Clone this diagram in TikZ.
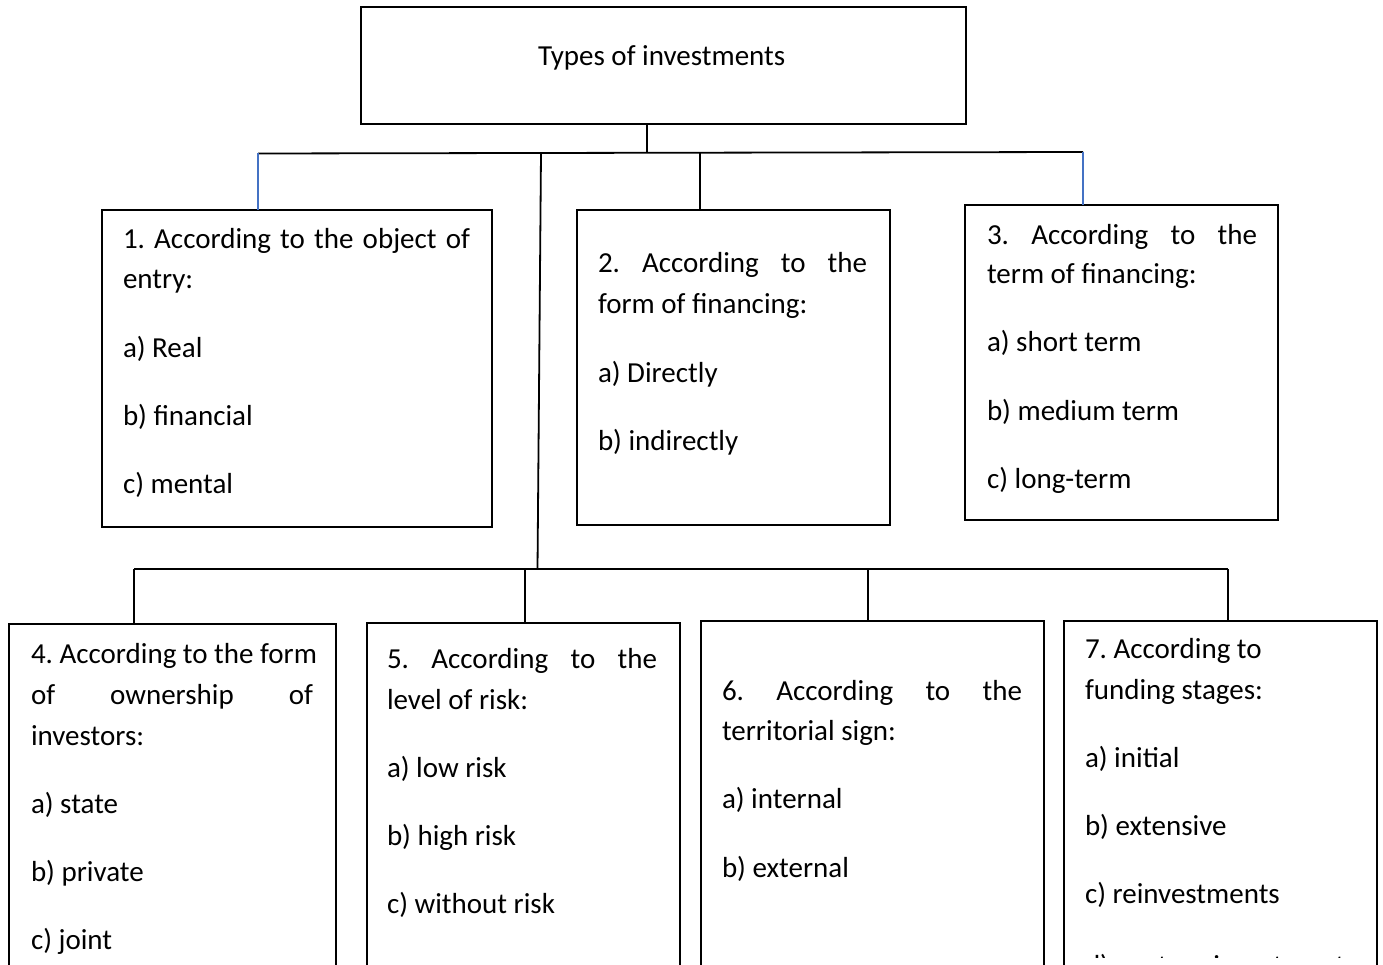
\documentclass[tikz,border=0pt]{standalone}
\usepackage{fontspec}
\setmainfont{Carlito}
\definecolor{bluecol}{RGB}{68,114,196}
\tikzset{
  box/.style={draw=black, line width=2.5pt, inner sep=0pt, outer sep=0pt, anchor=north west},
  conn/.style={draw=black, line width=1.8pt},
  bconn/.style={draw=bluecol, line width=1.5pt},
  txt/.style={inner sep=0pt, outer sep=0pt, anchor=base west, font=\fontsize{29}{41}\selectfont\frenchspacing},
}
\newcommand{\jline}[2]{\makebox[#1pt][s]{#2}}
\begin{document}
\begin{tikzpicture}[x=1pt,y=-1pt]
\clip (0,0) rectangle (1383,965);
\fill[white] (0,0) rectangle (1383,965);

% boxes
\node[box, minimum width=605pt, minimum height=117pt] (top) at (361,7) {};
\node[box, minimum width=390pt, minimum height=317pt] (b1) at (102,210) {};
\node[box, minimum width=313pt, minimum height=315pt] (b2) at (577,210) {};
\node[box, minimum width=313pt, minimum height=315pt] (b3) at (965,205) {};
\node[box, minimum width=327pt, minimum height=400pt] (b4) at (9,624) {};
\node[box, minimum width=313pt, minimum height=400pt] (b5) at (367,623) {};
\node[box, minimum width=343pt, minimum height=400pt] (b6) at (701,621) {};
\node[box, minimum width=313pt, minimum height=400pt] (b7) at (1064,621) {};

% connector points
\coordinate (h0) at (647,153);
\coordinate (busL) at (258,153.5);
\coordinate (busR) at (1083,152);
\coordinate (j2) at (700,153);
\coordinate (j3) at (541,153);
\coordinate (j3b) at (537.5,569);
\coordinate (lbL) at (134,569);
\coordinate (lbR) at (1228,569);
\coordinate (k5) at (525,569);
\coordinate (k6) at (868,569);

% upper connectors
\draw[conn] (top.south -| h0) -- (h0);
\draw[conn] (busL) -- (busR);
\draw[bconn] (busL) -- (busL |- b1.north);
\draw[bconn] (busR) -- (busR |- b3.north);
\draw[conn] (j2) -- (j2 |- b2.north);
\draw[conn] (j3) -- (j3b);

% lower connectors
\draw[conn] (lbL) -- (lbR);
\draw[conn] (lbL) -- (lbL |- b4.north);
\draw[conn] (k5) -- (k5 |- b5.north);
\draw[conn] (k6) -- (k6 |- b6.north);
\draw[conn] (lbR) -- (lbR |- b7.north);

% texts
\node[txt] (t0) at (538,66) {Types of investments};

\node[txt] (t1a) at (123,249) {\jline{347}{1. According to the object of}};
\node[txt] (t1b) at (123,289) {entry:};
\node[txt] (t1c) at (123,357) {a) Real};
\node[txt] (t1d) at (123,425) {b) financial};
\node[txt] (t1e) at (123,493) {c) mental};

\node[txt] (t2a) at (598,273) {\jline{269}{2. According to the}};
\node[txt] (t2b) at (598,313) {form of financing:};
\node[txt] (t2c) at (598,382) {a) Directly};
\node[txt] (t2d) at (598,450) {b) indirectly};

\node[txt] (t3a) at (987,245) {\jline{270}{3. According to the}};
\node[txt] (t3b) at (987,284) {term of financing:};
\node[txt] (t3c) at (987,352) {a) short term};
\node[txt] (t3d) at (987,420) {b) medium term};
\node[txt] (t3e) at (987,488) {c) long-term};

\node[txt] (t4a) at (31,663) {4. According to the form};
\node[txt] (t4b) at (31,704) {\jline{282}{of ownership of}};
\node[txt] (t4c) at (31,745) {investors:};
\node[txt] (t4d) at (31,813) {a) state};
\node[txt] (t4e) at (31,881) {b) private};
\node[txt] (t4f) at (31,949) {c) joint};

\node[txt] (t5a) at (387,668) {\jline{270}{5. According to the}};
\node[txt] (t5b) at (387,709) {level of risk:};
\node[txt] (t5c) at (387,777) {a) low risk};
\node[txt] (t5d) at (387,845) {b) high risk};
\node[txt] (t5e) at (387,913) {c) without risk};

\node[txt] (t6a) at (722,700) {\jline{300}{6. According to the}};
\node[txt] (t6b) at (722,740) {territorial sign:};
\node[txt] (t6c) at (722,808) {a) internal};
\node[txt] (t6d) at (722,877) {b) external};

\node[txt] (t7a) at (1085,658) {7. According to};
\node[txt] (t7b) at (1085,699) {funding stages:};
\node[txt] (t7c) at (1085,767) {a) initial};
\node[txt] (t7d) at (1085,835) {b) extensive};
\node[txt] (t7e) at (1085,903) {c) reinvestments};
\begin{scope}
\clip (1068,930) rectangle (1374,957);
\node[txt] (t7f) at (1085,975) {d) venture investments};
\end{scope}
\end{tikzpicture}
\end{document}
